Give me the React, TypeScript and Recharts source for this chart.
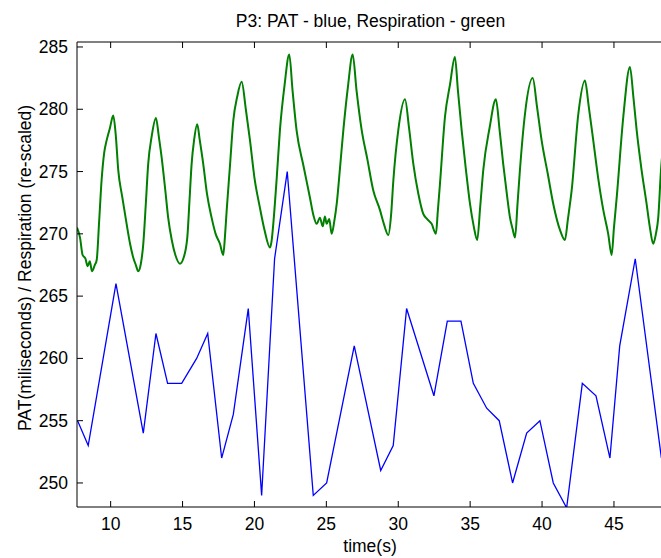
import React from 'react';
import { LineChart, Line, XAxis, YAxis, ReferenceLine } from 'recharts';

const X_MIN = 7.66;
const X_MAX = 48.48;
const Y_MIN = 248.07;
const Y_MAX = 285.4;

const xTicks = [10, 15, 20, 25, 30, 35, 40, 45];
const yTicks = [250, 255, 260, 265, 270, 275, 280, 285];

const titleText = 'P3: PAT - blue, Respiration - green';
const xLabelText = 'time(s)';
const yLabelText = 'PAT(miliseconds) / Respiration (re-scaled)';

// PAT (blue)
const patTime = [7.7, 8.44, 10.37, 12.27, 13.15, 13.96, 14.94, 15.98, 16.75, 17.72, 18.53, 19.57, 20.5, 21.4, 22.28, 24.09, 25.02, 26.94, 28.78, 29.65, 30.58, 32.48, 33.41, 34.36, 35.22, 36.15, 37.02, 37.95, 38.93, 39.85, 40.78, 41.71, 42.8, 43.75, 44.72, 45.4, 46.48, 48.3];
const patValues = [255, 253, 266, 254, 262, 258, 258, 260, 262, 252, 255.5, 264, 249, 268, 275, 249, 250, 261, 251, 253, 264, 257, 263, 263, 258, 256, 255, 250, 254, 255, 250, 248, 258, 257, 252, 261, 268, 252];

// Respiration (green)
const respTime = [7.66, 7.87, 8.05, 8.25, 8.4, 8.55, 8.7, 8.9, 9.03, 9.2, 9.37, 9.55, 9.72, 9.95, 10.18, 10.35, 10.53, 10.8, 11.11, 11.35, 11.57, 11.75, 11.92, 12.1, 12.27, 12.45, 12.61, 12.85, 13.15, 13.35, 13.55, 13.8, 14.0, 14.25, 14.5, 14.82, 15.05, 15.33, 15.48, 15.63, 15.8, 16.02, 16.2, 16.44, 16.7, 17.02, 17.3, 17.6, 17.83, 17.95, 18.07, 18.3, 18.53, 18.8, 19.11, 19.4, 19.69, 20.0, 20.38, 20.7, 21.08, 21.2, 21.31, 21.55, 21.77, 22.1, 22.42, 22.65, 22.93, 23.4, 23.86, 24.1, 24.33, 24.55, 24.75, 24.9, 25.02, 25.2, 25.37, 25.55, 25.72, 25.95, 26.18, 26.5, 26.83, 27.1, 27.46, 27.85, 28.26, 28.73, 29.0, 29.31, 29.5, 29.66, 30.0, 30.47, 30.75, 31.05, 31.4, 31.74, 32.0, 32.32, 32.62, 32.75, 32.9, 33.25, 33.6, 33.94, 34.15, 34.41, 34.7, 34.99, 35.25, 35.49, 35.7, 35.91, 36.35, 36.79, 37.05, 37.3, 37.55, 37.77, 37.95, 38.12, 38.3, 38.46, 38.81, 39.35, 39.65, 39.97, 40.4, 40.78, 41.25, 41.59, 41.8, 42.06, 42.52, 42.98, 43.25, 43.56, 43.9, 44.26, 44.6, 44.84, 45.0, 45.19, 45.65, 46.11, 46.35, 46.58, 46.9, 47.27, 47.5, 47.73, 47.9, 48.08, 48.27, 48.5];
const respValues = [270.5, 269.7, 268.3, 268.0, 267.4, 267.8, 267.0, 267.5, 267.9, 271, 274.3, 276.5, 277.5, 278.5, 279.5, 278, 275.1, 273, 270.8, 269.2, 268.1, 267.5, 267.0, 267.6, 269.2, 272.5, 275.6, 277.8, 279.3, 277.8, 276.1, 273.5, 271.3, 269.5, 268.3, 267.6, 268.0, 269.7, 272.6, 275.6, 277.5, 278.8, 277.5, 275.6, 273.2, 271.3, 270.0, 269.2, 268.3, 269.8, 271.9, 275.5, 279.1, 281, 282.2, 280, 277.5, 274.5, 272.1, 270.3, 268.9, 269.5, 270.8, 274.5, 278.3, 282, 284.4, 281.5, 278.3, 275.5, 272.9, 271.5, 270.8, 271.3, 270.6, 271.4, 270.8, 271.2, 270.0, 271.0, 272.4, 275.3, 278.3, 281.8, 284.4, 281.5, 278.3, 276, 273.5, 271.9, 270.8, 269.9, 271.5, 274.3, 278.3, 280.8, 278.5, 275.6, 273.2, 271.6, 271.2, 270.8, 270.0, 271.8, 274.0, 279.4, 282, 284.2, 281.5, 278.3, 275.2, 272.4, 270.6, 269.5, 272.2, 275.1, 278.5, 280.8, 278.3, 275.6, 273.2, 271.3, 270.4, 269.7, 272.5, 275.1, 279.6, 282.5, 280.2, 277.5, 274.8, 272.4, 270.3, 269.5, 271.2, 273.5, 279.6, 282.3, 280.2, 277.5, 274.5, 271.9, 270.0, 268.3, 270.5, 272.9, 279.4, 283.4, 281, 278.3, 275.3, 272.4, 270.5, 269.2, 269.9, 271.3, 275.1, 278];

const patData = patTime.map((t, i) => ({ t, v: patValues[i] }));
const respData = respTime.map((t, i) => ({ t, v: respValues[i] }));

const FONT = '"Liberation Sans", Arial, Helvetica, sans-serif';
const FS = 17.5;
const PLOT_TOP = 42;
const TICK_LEN = 6;

const XTick = (props: any) => {
  const { x, y, payload } = props;
  return (
    <g>
      <line x1={x} y1={y} x2={x} y2={y - TICK_LEN} stroke="#000" strokeWidth={1} />
      <line x1={x} y1={PLOT_TOP} x2={x} y2={PLOT_TOP + TICK_LEN} stroke="#000" strokeWidth={1} />
      <text x={x} y={y + 23} textAnchor="middle" fontFamily={FONT} fontSize={FS} fill="#000">
        {payload.value}
      </text>
    </g>
  );
};

const YTick = (props: any) => {
  const { x, y, payload } = props;
  return (
    <g>
      <line x1={x} y1={y} x2={x + TICK_LEN} y2={y} stroke="#000" strokeWidth={1} />
      <text x={x - 9} y={y + 6} textAnchor="end" fontFamily={FONT} fontSize={FS} fill="#000">
        {payload.value}
      </text>
    </g>
  );
};

export default function App() {
  return (
    <div style={{ position: 'absolute', left: 0, top: 0, width: 661, height: 558, overflow: 'hidden', background: '#fff' }}>
      <LineChart width={680} height={558} margin={{ top: PLOT_TOP, right: 16, bottom: 0, left: 17 }}>
        <XAxis
          dataKey="t"
          type="number"
          domain={[X_MIN, X_MAX]}
          ticks={xTicks}
          allowDataOverflow
          height={51}
          tickSize={0}
          tickMargin={0}
          tickLine={false}
          tick={<XTick />}
          stroke="#000"
          interval={0}
        />
        <YAxis
          type="number"
          domain={[Y_MIN, Y_MAX]}
          ticks={yTicks}
          allowDataOverflow
          width={60}
          tickSize={0}
          tickMargin={0}
          tickLine={false}
          tick={<YTick />}
          stroke="#000"
          interval={0}
        />
        <ReferenceLine y={Y_MAX} stroke="#000" strokeWidth={1} />
        <Line
          data={respData}
          dataKey="v"
          type="monotone"
          stroke="#007f00"
          strokeWidth={2}
          dot={false}
          isAnimationActive={false}
        />
        <Line
          data={patData}
          dataKey="v"
          type="linear"
          stroke="#0000ff"
          strokeWidth={1.3}
          dot={false}
          isAnimationActive={false}
        />
      </LineChart>
      <svg width={661} height={558} style={{ position: 'absolute', left: 0, top: 0, pointerEvents: 'none' }}>
        <text x={370.5} y={27} textAnchor="middle" fontFamily={FONT} fontSize={FS} fill="#000">
          {titleText}
        </text>
        <text x={370} y={552} textAnchor="middle" fontFamily={FONT} fontSize={FS} fill="#000">
          {xLabelText}
        </text>
        <text transform="translate(31,268) rotate(-90)" textAnchor="middle" fontFamily={FONT} fontSize={FS} fill="#000">
          {yLabelText}
        </text>
      </svg>
    </div>
  );
}
